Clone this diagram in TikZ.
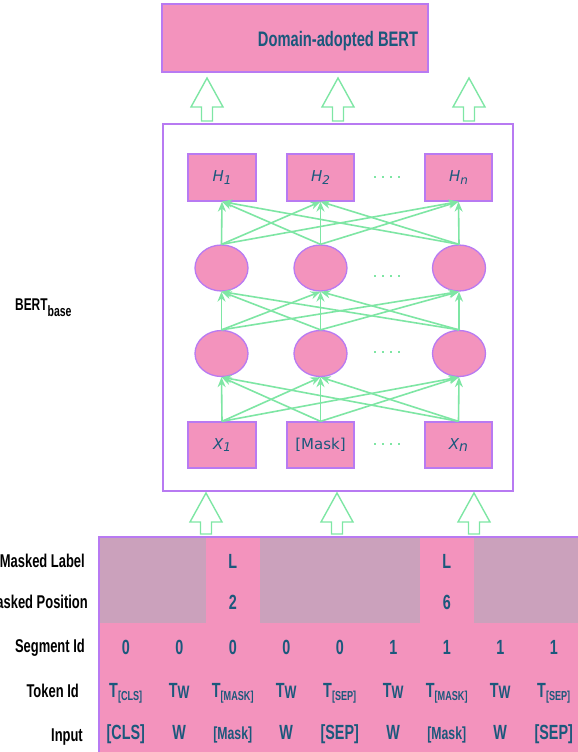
\documentclass[tikz,border=0pt]{standalone}
\usepackage{fontspec}
\setmainfont{Liberation Sans}
\newfontfamily\condfont[FakeStretch=0.70]{Liberation Sans}
\newfontfamily\dvfont{DejaVu Sans}
\usetikzlibrary{shapes.geometric,arrows.meta}
\definecolor{pinkf}{HTML}{F393BD}
\definecolor{grayf}{HTML}{CBA1BC}
\definecolor{purp}{HTML}{B87AF2}
\definecolor{grn}{HTML}{7EE6A4}
\definecolor{txtb}{HTML}{1B587C}
\newcommand\hollowarrow[4]{%
  \draw[harrow] (#1,#2) -- ({#1+16},#3) -- ({#1+5.5},#3) -- ({#1+5.5},#4)
    -- ({#1-5.5},#4) -- ({#1-5.5},#3) -- ({#1-16},#3) -- cycle;}
\newcommand\greendots[2]{%
  \foreach \dd in {0,8,16,24} {\fill[grn] ({#1+\dd-1.3},{#2-1.3}) rectangle ++(2.6,2.6);}}
\begin{document}
\begin{tikzpicture}[x=1pt,y=-1pt,
  pbox/.style={draw=purp,line width=1.3pt,fill=pinkf,inner sep=0pt,
    minimum width=67pt,minimum height=47pt,
    font=\dvfont\fontsize{15}{15}\selectfont,text=txtb},
  pell/.style={ellipse,draw=purp,line width=1.3pt,fill=pinkf,inner sep=0pt,
    minimum width=53pt,minimum height=46pt},
  conn/.style={draw=grn,line width=1.6pt,-{Stealth[length=10pt,width=8pt]}},
  harrow/.style={draw=grn,line width=1.4pt,line join=miter},
  lbl/.style={inner sep=0pt,font=\condfont\bfseries\fontsize{18.5}{18.5}\selectfont,text=black},
  cell/.style={inner sep=0pt,anchor=base,font=\condfont\bfseries\fontsize{20.5}{20.5}\selectfont,text=txtb},
]
\useasboundingbox (0,0) rectangle (578,752);

% top box
\node[draw=purp,line width=1.3pt,fill=pinkf,minimum width=266pt,minimum height=68pt,inner sep=0pt] (dbox) at (295,38) {};
\node[inner sep=0pt,anchor=base,font=\condfont\bfseries\fontsize{21}{21}\selectfont,text=txtb] (dtitle) at (338,47) {Domain-adopted BERT};

% main box
\node[draw=purp,line width=1.3pt,fill=white,minimum width=350pt,minimum height=367pt,inner sep=0pt] (bertbox) at (338,307.5) {};
\node[inner sep=0pt,anchor=base west,font=\condfont\bfseries\fontsize{17}{17}\selectfont] (bertlbl) at (15,310)
  {BERT\raisebox{-6pt}{\fontsize{15}{15}\selectfont base}};

% hollow arrows
\hollowarrow{207}{78}{107}{121}
\hollowarrow{338}{78}{107}{121}
\hollowarrow{469}{78}{107}{121}
\hollowarrow{206}{493}{522}{534}
\hollowarrow{337}{493}{522}{534}
\hollowarrow{474}{493}{522}{534}

% H row
\node[pbox,minimum width=68pt] (h1) at (222,177.5) {\itshape H\raisebox{-2.5pt}{\fontsize{12}{12}\selectfont 1}};
\node[pbox] (h2) at (320.5,177.5) {\itshape H\raisebox{-2.5pt}{\fontsize{12}{12}\selectfont 2}};
\node[pbox] (hn) at (458.5,177.5) {\itshape H\raisebox{-2.5pt}{\fontsize{12}{12}\selectfont n}};
\greendots{375}{177}

% ellipse rows
\node[pell] (b1) at (221.5,268) {};
\node[pell] (b2) at (320.5,268) {};
\node[pell] (bn) at (459,268) {};
\greendots{375}{276}
\node[pell] (a1) at (221.5,353.5) {};
\node[pell] (a2) at (320.5,353.5) {};
\node[pell] (an) at (459,353.5) {};
\greendots{375}{352}

% X row
\node[pbox,minimum width=68pt,minimum height=46pt] (x1) at (222,445) {\itshape X\raisebox{-2.5pt}{\fontsize{12}{12}\selectfont 1}};
\node[pbox,minimum height=46pt] (x2) at (320.5,445) {[Mask]};
\node[pbox,minimum height=46pt] (xn) at (458.5,445) {\itshape X\raisebox{-1.5pt}{\fontsize{14}{14}\selectfont n}};
\greendots{375}{444}

% connectors
\foreach \s in {x1,x2,xn} {\foreach \t in {a1,a2,an} {\draw[conn] (\s.north) -- (\t.south);}}
\foreach \s in {a1,a2,an} {\foreach \t in {b1,b2,bn} {\draw[conn] (\s.north) -- (\t.south);}}
\foreach \s in {b1,b2,bn} {\foreach \t in {h1,h2,hn} {\draw[conn] (\s.north) -- (\t.south);}}

% table
\fill[pinkf] (99,537) rectangle (578,752);
\fill[grayf] (99,537) rectangle (206,623);
\fill[grayf] (259.5,537) rectangle (420,623);
\fill[grayf] (473.5,537) rectangle (578,623);
\draw[purp,line width=1.3pt] (578,537) -- (99,537) -- (99,752);

\node[lbl,anchor=base east] (lml) at (85,567) {Masked Label};
\node[lbl,anchor=base east] (lmp) at (88,608) {Masked Position};
\node[lbl,anchor=base east] (lsi) at (85,652) {Segment Id};
\node[lbl,anchor=base east] (lti) at (79,697) {Token Id};
\node[lbl,anchor=base east] (lin) at (83,741) {Input};

\node[cell] (ml3) at (232.75,568) {L};
\node[cell] (ml7) at (446.75,568) {L};
\node[cell] (mp3) at (232.75,609) {2};
\node[cell] (mp7) at (446.75,609) {6};

\foreach \v [count=\i from 0] in {0,0,0,0,0,1,1,1,1}
  {\node[cell] (seg\i) at ({125.75+53.5*\i},654) {\v};}

\newcommand\subsm[1]{\raisebox{-3pt}{\fontsize{13}{13}\selectfont #1}}
\newcommand\subw{\raisebox{-1pt}{\fontsize{18}{18}\selectfont W}}
\node[cell] (tok0) at (125.75,697) {T\subsm{[CLS]}};
\node[cell] (tok1) at (179.25,697) {T\subw};
\node[cell] (tok2) at (232.75,697) {T\subsm{[MASK]}};
\node[cell] (tok3) at (286.25,697) {T\subw};
\node[cell] (tok4) at (339.75,697) {T\subsm{[SEP]}};
\node[cell] (tok5) at (393.25,697) {T\subw};
\node[cell] (tok6) at (446.75,697) {T\subsm{[MASK]}};
\node[cell] (tok7) at (500.25,697) {T\subw};
\node[cell] (tok8) at (553.75,697) {T\subsm{[SEP]}};

\node[cell] (in0) at (125.75,739) {[CLS]};
\node[cell] (in1) at (179.25,739) {W};
\node[cell,font=\condfont\bfseries\fontsize{17.5}{17.5}\selectfont] (in2) at (232.75,739) {[Mask]};
\node[cell] (in3) at (286.25,739) {W};
\node[cell] (in4) at (339.75,739) {[SEP]};
\node[cell] (in5) at (393.25,739) {W};
\node[cell,font=\condfont\bfseries\fontsize{17.5}{17.5}\selectfont] (in6) at (446.75,739) {[Mask]};
\node[cell] (in7) at (500.25,739) {W};
\node[cell] (in8) at (553.75,739) {[SEP]};
\end{tikzpicture}
\end{document}
